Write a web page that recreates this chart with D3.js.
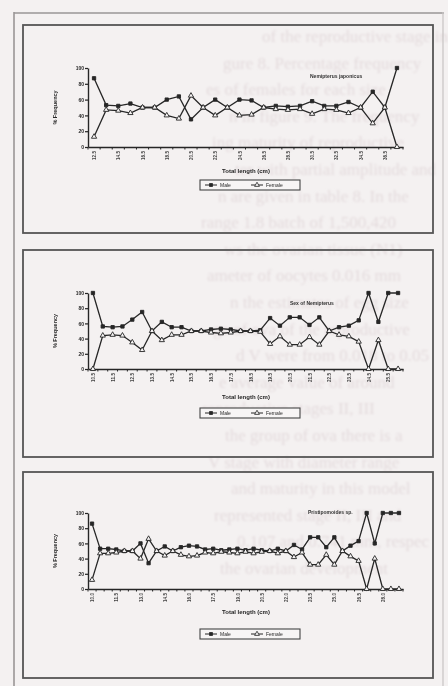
<!DOCTYPE html>
<html><head><meta charset="utf-8">
<script src="https://cdn.jsdelivr.net/npm/d3@7"></script>
<style>body{margin:0;background:#f4f1f1;overflow:hidden}</style>
</head><body>
<svg id="c" width="448" height="686"></svg>
<script>
// ---------- data ----------
const yTicks = [0, 20, 40, 60, 80, 100];
const seriesNames = ["Male", "Female"];

const cats1 = ["12.5","13.5","14.5","15.5","16.5","17.5","18.5","19.5","20.5","21.5","22.5","23.5","24.5","25.5","26.5","27.5","28.5","29.5","30.5","31.5","32.5","33.5","34.5","35.5","36.5","37.5"];
const male1   = [87,53,52,55,50,50,60,64,35,50,60,50,60,59,50,52,51,52,58,52,52,57,50,70,50,100];
const female1 = [13,47,46,43,50,50,40,36,65,50,40,50,40,41,50,48,47,48,42,48,47,43,50,30,50,0];

const cats2 = ["10.5","11.0","11.5","12.0","12.5","13.0","13.5","14.0","14.5","15.0","15.5","16.0","16.5","17.0","17.5","18.0","18.5","19.0","19.5","20.0","20.5","21.0","21.5","22.0","22.5","23.0","23.5","24.0","24.5","25.0","25.5","26.0"];
const male2   = [100,56,55,56,65,75,50,62,55,55,50,50,52,53,52,50,50,51,67,57,68,68,58,68,50,55,57,64,100,62,100,100];
const female2 = [0,44,45,44,35,25,50,38,45,45,50,50,48,47,48,50,50,49,33,43,32,32,42,32,50,45,43,36,0,38,0,0];

const cats3 = ["10.0","10.5","11.0","11.5","12.0","12.5","13.0","13.5","14.0","14.5","15.0","15.5","16.0","16.5","17.0","17.5","18.0","18.5","19.0","19.5","20.0","20.5","21.0","21.5","22.0","22.5","23.0","23.5","24.0","24.5","25.0","25.5","26.0","26.5","27.0","27.5","28.0","28.5","29.0"];
const male3   = [86,53,53,52,50,50,60,34,50,56,50,55,57,56,52,53,51,52,53,51,53,51,50,53,50,58,52,68,68,55,68,50,57,63,100,60,100,100,100];
const female3 = [12,47,47,48,50,50,40,66,50,44,50,45,43,44,48,47,49,48,47,49,47,49,50,47,50,42,48,32,32,45,32,50,43,37,0,40,0,0,0];

const notes = ["Nemipterus japonicus", "Sex of Nemipterus", "Pristipomoides sp."];
const xTitle = "Total length (cm)";
const yTitle = "% Frequency";

const ghostLines = [
  "of the reproductive stage in",
  "gure 8. Percentage frequency",
  "es of females for each size",
  "n in figure 9. The frequency",
  "ing maturity of reproductive",
  "ter with partial amplitude and",
  "n are given in table 8. In the",
  "range 1.8 batch of 1,500,420",
  "ws the ovarian tissue (N1)",
  "ameter of oocytes 0.016 mm",
  "n the estimates of egg size",
  "ge of ova of the reproductive",
  "d V were from 0.018 to 0.05",
  "e average value of around",
  "reproductive stages II, III",
  "the group of ova there is a",
  "V stage with diameter range",
  "and maturity in this model",
  "represented stage II, III and",
  "0.107 and 0.741 mm, respec",
  "the ovarian development"
];

// ---------- drawing ----------
const svg = d3.select("#c");
const defs = svg.append("defs");
defs.append("filter").attr("id","blurG").append("feGaussianBlur").attr("stdDeviation",1.0);
defs.append("filter").attr("id","blurC").append("feGaussianBlur").attr("stdDeviation",0.4);

// ghost text (show-through from the reverse page)
const ghost = svg.append("g").attr("filter","url(#blurG)");
ghostLines.forEach((t,i) => {
  ghost.append("text")
    .attr("x", i===0 ? 262 : 200 + (i*23)%40)
    .attr("y", 42 + i*26.6)
    .attr("font-family","Liberation Serif, serif")
    .attr("font-size", 17)
    .attr("fill","#e4dbdd")
    .text(t);
});

const root = svg.append("g").attr("filter","url(#blurC)");

// page frame
root.append("line").attr("x1",14).attr("x2",14).attr("y1",12).attr("y2",686).attr("stroke","#9a9696").attr("stroke-width",1.6);
root.append("line").attr("x1",14).attr("x2",444).attr("y1",13).attr("y2",13).attr("stroke","#9a9696").attr("stroke-width",1.6);
root.append("line").attr("x1",443).attr("x2",443).attr("y1",12).attr("y2",686).attr("stroke","#c8c4c4").attr("stroke-width",1.2);

const charts = [
  {cats:cats1, male:male1, female:female1, note:notes[0], box:[23,25,433,233], y0:147, y100:68, labelEvery:2, noteX:310, noteY:78, xTitleY:173, legendY:180},
  {cats:cats2, male:male2, female:female2, note:notes[1], box:[23,250,433,457], y0:369, y100:293, labelEvery:2, noteX:290, noteY:305, xTitleY:399, legendY:408},
  {cats:cats3, male:male3, female:female3, note:notes[2], box:[23,472,433,678], y0:589, y100:513, labelEvery:3, noteX:308, noteY:514, xTitleY:614, legendY:629}
];

const ink = "#262626";

charts.forEach(cfg => {
  const g = root.append("g");
  const [bx0,by0,bx1,by1] = cfg.box;
  g.append("rect").attr("x",bx0).attr("y",by0).attr("width",bx1-bx0).attr("height",by1-by0)
    .attr("fill","none").attr("stroke","#555").attr("stroke-width",1.8);

  const x = d3.scalePoint().domain(cfg.cats).range([88,403]).padding(0.5);
  const y = d3.scaleLinear().domain([0,100]).range([cfg.y0,cfg.y100]);
  const step = x.step();

  // y axis
  const ya = g.append("g").attr("transform",`translate(88,0)`)
    .call(d3.axisLeft(y).tickValues(yTicks).tickSize(3).tickSizeOuter(0));
  ya.select(".domain").attr("stroke",ink).attr("stroke-width",1.4);
  ya.selectAll(".tick line").attr("stroke",ink).attr("stroke-width",1.2);
  ya.selectAll(".tick text").attr("font-size",5).attr("font-weight","bold").attr("font-family","Liberation Sans, Arial").attr("fill",ink).attr("x",-4);

  // x axis (line + category-boundary ticks)
  const xa = g.append("g").attr("transform",`translate(0,${cfg.y0})`)
    .call(d3.axisBottom(x).tickSize(0).tickFormat((d,i)=> i%cfg.labelEvery===0 ? d : ""));
  xa.select(".domain").attr("stroke",ink).attr("stroke-width",1.4);
  xa.selectAll(".tick text")
    .attr("font-size",4.6).attr("font-family","Liberation Sans, Arial").attr("font-weight","bold").attr("fill","#444")
    .attr("text-anchor","end").attr("dy","0.35em")
    .attr("transform","translate(0,4) rotate(-90)").attr("x",0).attr("y",0);
  cfg.cats.concat(["_end"]).forEach((c,i) => {
    const px = (i < cfg.cats.length ? x(c) : x(cfg.cats[cfg.cats.length-1]) + step) - step/2;
    g.append("line").attr("x1",px).attr("x2",px).attr("y1",cfg.y0).attr("y2",cfg.y0+2.5).attr("stroke",ink).attr("stroke-width",1);
  });

  // titles
  g.append("text").attr("transform",`translate(57,${(cfg.y0+cfg.y100)/2}) rotate(-90)`)
    .attr("text-anchor","middle").attr("font-size",5.5).attr("font-weight","bold").attr("font-family","Liberation Sans, Arial").attr("fill",ink).text(yTitle);
  g.append("text").attr("x",246).attr("y",cfg.xTitleY).attr("text-anchor","middle")
    .attr("font-size",6).attr("font-weight","bold").attr("font-family","Liberation Sans, Arial").attr("fill",ink).text(xTitle);
  g.append("text").attr("x",cfg.noteX).attr("y",cfg.noteY)
    .attr("font-size",5).attr("font-weight","bold").attr("font-family","Liberation Sans, Arial").attr("fill","#333").text(cfg.note);

  // series
  const series = [{name:seriesNames[0], v:cfg.male, fill:ink}, {name:seriesNames[1], v:cfg.female, fill:"#f6f4f4"}];
  const line = d3.line().x((d,i)=>x(cfg.cats[i])).y(d=>y(d));
  series.forEach(s => {
    g.append("path").datum(s.v).attr("d",line).attr("fill","none").attr("stroke",ink).attr("stroke-width",1.3);
  });
  series.forEach((s,si) => {
    g.selectAll(null).data(s.v).enter().append("path")
      .attr("transform",(d,i)=>`translate(${x(cfg.cats[i])},${y(d)})`)
      .attr("d", d3.symbol().type(si===0 ? d3.symbolSquare : d3.symbolTriangle).size(si===0?11:12)())
      .attr("fill",s.fill).attr("stroke",ink).attr("stroke-width",0.9);
  });

  // legend
  const lx = 200, lw = 100, ly = cfg.legendY, lh = 10;
  const lg = g.append("g");
  lg.append("rect").attr("x",lx).attr("y",ly).attr("width",lw).attr("height",lh).attr("fill","#f7f5f5").attr("stroke","#444").attr("stroke-width",1.1);
  series.forEach((s,si) => {
    const ox = lx + 5 + si*46;
    lg.append("line").attr("x1",ox).attr("x2",ox+12).attr("y1",ly+lh/2).attr("y2",ly+lh/2).attr("stroke",ink).attr("stroke-width",1);
    lg.append("path").attr("transform",`translate(${ox+6},${ly+lh/2})`)
      .attr("d", d3.symbol().type(si===0 ? d3.symbolSquare : d3.symbolTriangle).size(si===0?9:10)())
      .attr("fill",s.fill).attr("stroke",ink).attr("stroke-width",0.8);
    lg.append("text").attr("x",ox+15).attr("y",ly+lh/2+1.8).attr("font-size",5).attr("font-family","Liberation Sans, Arial").attr("fill",ink).text(s.name);
  });
});
</script>
</body></html>
